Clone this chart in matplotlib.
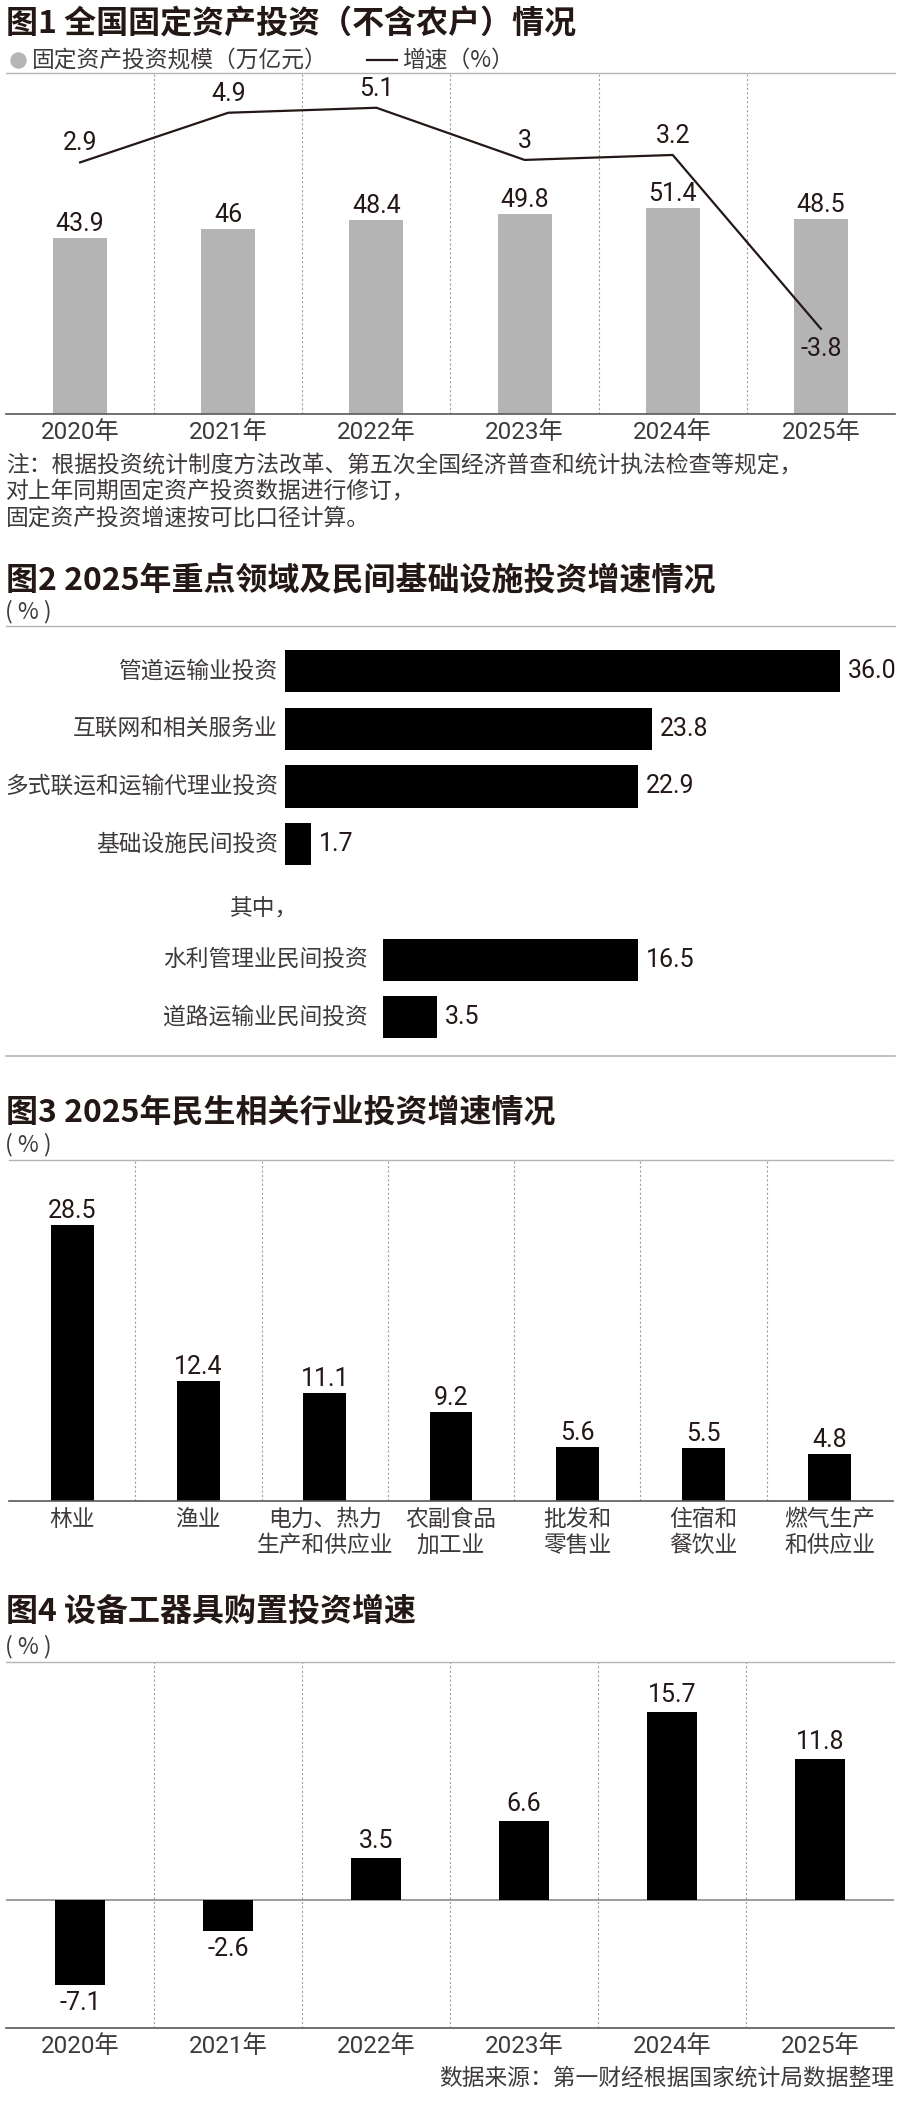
import matplotlib

matplotlib.use("Agg")
import matplotlib.pyplot as plt
from matplotlib.lines import Line2D

W, H = 900, 2105

# 图1 全国固定资产投资
years = ["2020年", "2021年", "2022年", "2023年", "2024年", "2025年"]
invest_scale = [43.9, 46, 48.4, 49.8, 51.4, 48.5]  # 万亿元
invest_growth = [2.9, 4.9, 5.1, 3, 3.2, -3.8]  # %

# 图2 重点领域及民间基础设施投资增速
key_fields = ["管道运输业投资", "互联网和相关服务业", "多式联运和运输代理业投资", "基础设施民间投资"]
key_growth = [36.0, 23.8, 22.9, 1.7]
sub_header = "其中，"
sub_fields = ["水利管理业民间投资", "道路运输业民间投资"]
sub_growth = [16.5, 3.5]

# 图3 民生相关行业投资增速
livelihood = ["林业", "渔业", "电力、热力\n生产和供应业", "农副食品\n加工业",
              "批发和\n零售业", "住宿和\n餐饮业", "燃气生产\n和供应业"]
livelihood_growth = [28.5, 12.4, 11.1, 9.2, 5.6, 5.5, 4.8]

# 图4 设备工器具购置投资增速
equip_growth = [-7.1, -2.6, 3.5, 6.6, 15.7, 11.8]

CJK = ["Noto Sans CJK SC", "DejaVu Sans"]
NUM = ["Roboto", "Noto Sans CJK SC", "DejaVu Sans"]
INK = "#231815"
TXT = "#3e3a39"
RULE = "#b5b5b5"
AXIS = "#595757"
SEP = "#a0a0a0"
PT = 0.72  # points per pixel at dpi 100
BODY = 16.4

fig = plt.figure(figsize=(W / 100, H / 100), dpi=100)
fig.patch.set_facecolor("white")


def px_axes(x0, y0, x1, y1):
    return fig.add_axes([x0 / W, 1 - y1 / H, (x1 - x0) / W, (y1 - y0) / H])


def px_text(x, y, s, **kw):
    kw.setdefault("va", "center")
    kw.setdefault("family", CJK)
    kw.setdefault("color", TXT)
    kw.setdefault("fontsize", BODY)
    fig.text(x / W, 1 - y / H, s, **kw)


def frame(ax, bottom_color=AXIS):
    ax.set_facecolor("none")
    for side in ("left", "right"):
        ax.spines[side].set_visible(False)
    ax.spines["top"].set_color(RULE)
    ax.spines["top"].set_linewidth(1.0)
    ax.spines["bottom"].set_color(bottom_color)
    ax.spines["bottom"].set_linewidth(1.2)
    ax.set_yticks([])
    ax.tick_params(length=0)


def separators(ax, n):
    for i in range(1, n):
        ax.axvline(i - 0.5, color=SEP, lw=0.8, ls=(0, (2, 2)), zorder=0)


def value_label(ax, x, y, text, dy_px=0, dx_px=0, ha="center"):
    ax.annotate(text, (x, y), xytext=(dx_px * PT, dy_px * PT),
                textcoords="offset points", ha=ha, va="center",
                fontsize=18, family=NUM, color=INK)


def titles(y_title, y_unit, title):
    px_text(6, y_title, title, fontsize=23, fontweight="bold", color=INK)
    if y_unit is not None:
        px_text(5, y_unit, "( % )")


# ---------- 图1 ----------
titles(24, None, "图1 全国固定资产投资（不含农户）情况")
fig.add_artist(Line2D([17.5 / W], [1 - 60 / H], marker="o", markersize=15 * PT,
                      color=RULE, lw=0))
px_text(32, 60, "固定资产投资规模（万亿元）")
fig.add_artist(Line2D([367 / W, 397 / W], [1 - 60 / H] * 2, color=INK, lw=1.6))
px_text(402, 60, "增速（%）")

ax1 = px_axes(6, 73, 895, 414)
frame(ax1)
x = list(range(len(years)))
ax1.bar(x, invest_scale, width=0.365, color="#b4b4b4", zorder=2)
ax1.set_xlim(-0.5, len(years) - 0.5)
ax1.set_ylim(0, 85)
separators(ax1, len(years))
for i, v in enumerate(invest_scale):
    value_label(ax1, i, v, f"{v:g}", dy_px=14)
ax1.set_xticks(x, years, fontsize=17.5, fontfamily=NUM, color=TXT)
ax1.tick_params(axis="x", pad=5)

ax1b = ax1.twinx()
ax1b.set_axis_off()
ax1b.plot(x, invest_growth, color=INK, lw=1.6)
ax1b.set_ylim(-7.23, 6.5)
for i, v in enumerate(invest_growth):
    value_label(ax1b, i, v, f"{v:g}", dy_px=19 if v >= 0 else -20)

notes = ["注：根据投资统计制度方法改革、第五次全国经济普查和统计执法检查等规定，",
         "对上年同期固定资产投资数据进行修订，",
         "固定资产投资增速按可比口径计算。"]
for k, line in enumerate(notes):
    px_text(6, 465 + 26.5 * k, line)

# ---------- 图2 ----------
titles(580, 612, "图2 2025年重点领域及民间基础设施投资增速情况")
ax2 = px_axes(6, 626, 895, 1055.5)
frame(ax2, bottom_color=RULE)
ax2.set_xticks([])
ppu = 15.42  # pixels per percent
zero_px = 285
ax2.set_xlim(-(zero_px - 6) / ppu, (895 - zero_px) / ppu)
ax2.set_ylim(6.66, -0.78)
sub_left = 6.36
main_pos = list(range(len(key_fields)))
header_pos = len(key_fields)
sub_pos = [header_pos + 1 + k for k in range(len(sub_fields))]
ax2.barh(main_pos, key_growth, height=0.73, color="black")
ax2.barh(sub_pos, sub_growth, left=sub_left, height=0.73, color="black")
for p, name, v in zip(main_pos, key_fields, key_growth):
    ax2.annotate(name, (0, p), xytext=(-7 * PT, 0), textcoords="offset points",
                 ha="right", va="center", fontsize=BODY, family=CJK, color=TXT)
    value_label(ax2, v, p, f"{v:.1f}", dx_px=8, ha="left")
ax2.annotate(sub_header, (0, header_pos), xytext=(-55 * PT, -6 * PT),
             textcoords="offset points", ha="left", va="center",
             fontsize=BODY, family=CJK, color=TXT)
for p, name, v in zip(sub_pos, sub_fields, sub_growth):
    ax2.annotate(name, (sub_left, p), xytext=(-15 * PT, 0), textcoords="offset points",
                 ha="right", va="center", fontsize=BODY, family=CJK, color=TXT)
    value_label(ax2, sub_left + v, p, f"{v:.1f}", dx_px=8, ha="left")

# ---------- 图3 ----------
titles(1112.7, 1145, "图3 2025年民生相关行业投资增速情况")
ax3 = px_axes(9, 1160, 893, 1500.8)
frame(ax3)
x3 = list(range(len(livelihood)))
ax3.bar(x3, livelihood_growth, width=0.34, color="black", zorder=2)
ax3.set_xlim(-0.5, len(livelihood) - 0.5)
ax3.set_ylim(0, 35.17)
separators(ax3, len(livelihood))
for i, v in enumerate(livelihood_growth):
    value_label(ax3, i, v, f"{v:.1f}", dy_px=14)
ax3.set_xticks(x3, livelihood, fontsize=BODY, fontfamily=CJK, color=TXT,
              linespacing=1.2)
ax3.tick_params(axis="x", pad=5)

# ---------- 图4 ----------
titles(1611.7, 1646.7, "图4 设备工器具购置投资增速")
ax4 = px_axes(6, 1661.7, 894, 2028.3)
frame(ax4)
ax4.bar(x, equip_growth, width=0.34, color="black", zorder=2)
ax4.set_xlim(-0.5, len(years) - 0.5)
ax4.set_ylim(-10.7, 19.88)
ax4.axhline(0, color="#8c8c8c", lw=1.2, zorder=1)
separators(ax4, len(years))
for i, v in enumerate(equip_growth):
    value_label(ax4, i, v, f"{v:.1f}", dy_px=17 if v >= 0 else -18)
ax4.set_xticks(x, years, fontsize=17.5, fontfamily=NUM, color=TXT)
ax4.tick_params(axis="x", pad=5)

px_text(894, 2078, "数据来源：第一财经根据国家统计局数据整理", ha="right")

fig.savefig("out.png", dpi=100, facecolor="white")
